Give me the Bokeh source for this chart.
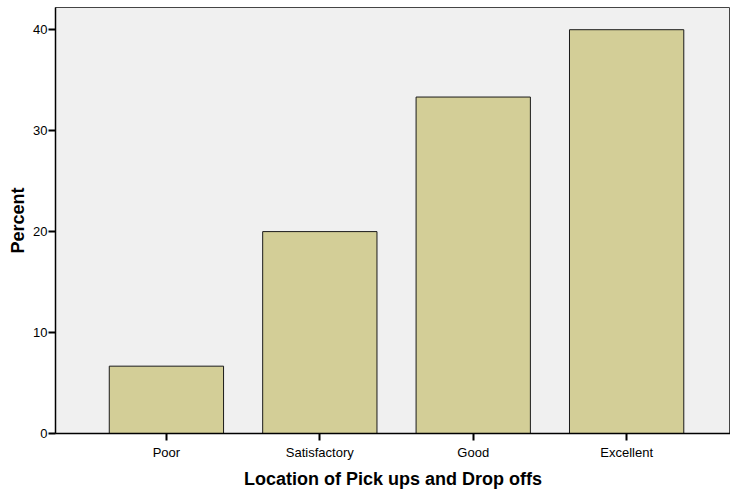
from bokeh.plotting import figure
from bokeh.models import Range1d, FixedTicker
from bokeh.embed import file_html
from bokeh.resources import INLINE

categories = ["Poor", "Satisfactory", "Good", "Excellent"]
percent = [6.67, 20.0, 33.33, 40.0]
y_ticks = [0, 10, 20, 30, 40]

positions = list(range(len(categories)))

p = figure(
    x_range=Range1d(-0.723, len(categories) - 1 + 0.677),
    y_range=Range1d(0, 42.2),
    width=730, height=493,
    output_backend="svg", toolbar_location=None,
    min_border_left=55, min_border_right=0, min_border_top=7, min_border_bottom=60,
)
p.background_fill_color = "#F0F0F0"
p.border_fill_color = "white"
p.outline_line_color = "#444444"
p.outline_line_width = 1
p.xgrid.visible = False
p.ygrid.visible = False

p.vbar(x=positions, top=percent, width=0.745, bottom=0,
       fill_color="#D3CE97", line_color="#1a1a1a", line_width=1)

font = "Liberation Sans"
p.yaxis.ticker = FixedTicker(ticks=y_ticks)
p.yaxis.minor_tick_line_color = None
p.yaxis.major_tick_in = 0
p.yaxis.major_tick_out = 7
p.yaxis.major_tick_line_width = 2
p.yaxis.axis_line_width = 1.5
p.yaxis.axis_line_color = "black"
p.yaxis.major_label_text_font = font
p.yaxis.major_label_text_font_size = "13px"
p.yaxis.major_label_text_color = "black"
p.yaxis.major_label_standoff = 1
p.yaxis.axis_label = "Percent"
p.yaxis.axis_label_text_font = font
p.yaxis.axis_label_text_font_style = "bold"
p.yaxis.axis_label_text_font_size = "18px"
p.yaxis.axis_label_text_color = "black"
p.yaxis.axis_label_standoff = 2

p.xaxis.ticker = FixedTicker(ticks=positions)
p.xaxis.major_label_overrides = {i: c for i, c in zip(positions, categories)}
p.xaxis.minor_tick_line_color = None
p.xaxis.major_tick_in = 0
p.xaxis.major_tick_out = 7
p.xaxis.major_tick_line_width = 2
p.xaxis.axis_line_width = 1.5
p.xaxis.axis_line_color = "black"
p.xaxis.major_label_text_font = font
p.xaxis.major_label_text_font_size = "13px"
p.xaxis.major_label_text_color = "black"
p.xaxis.major_label_standoff = 4
p.xaxis.axis_label = "Location of Pick ups and Drop offs"
p.xaxis.axis_label_text_font = font
p.xaxis.axis_label_text_font_style = "bold"
p.xaxis.axis_label_text_font_size = "18px"
p.xaxis.axis_label_text_color = "black"
p.xaxis.axis_label_standoff = 6

open("out.html", "w").write(file_html(p, INLINE))
